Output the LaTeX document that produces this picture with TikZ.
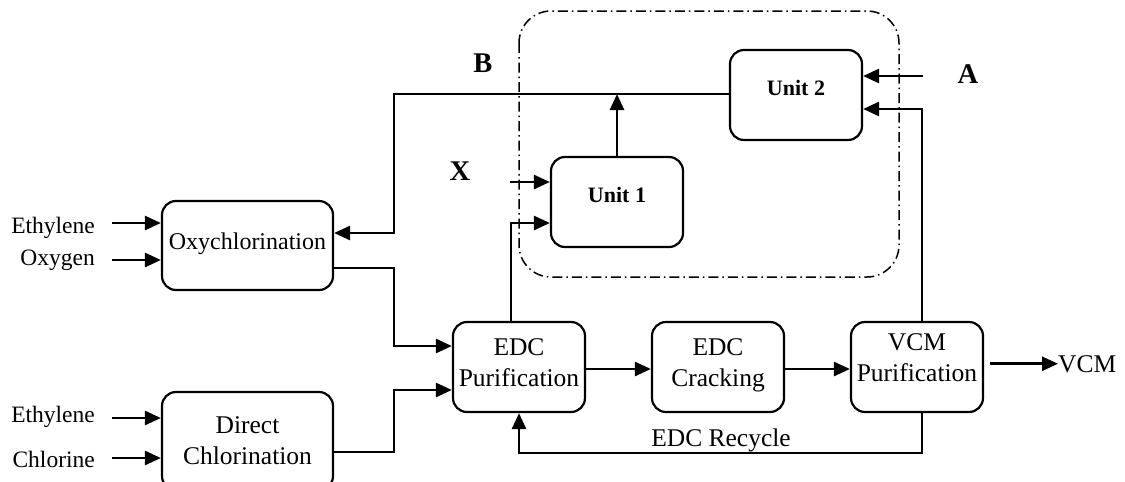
\documentclass[tikz,border=0pt]{standalone}
\usepackage{fontspec}
\setmainfont{Liberation Serif}
\usetikzlibrary{arrows.meta}
\begin{document}
\begin{tikzpicture}[x=1pt,y=-1pt,
  box/.style={draw,line width=2.2pt,rounded corners=14pt,minimum width=132pt,
    minimum height=90pt,inner sep=0pt,align=center,
    font=\fontsize{25.5}{31}\selectfont,text height=18pt},
  twoline/.style={box,text height=49pt,text depth=#1},
  unitbox/.style={box,font=\fontsize{22}{26}\selectfont\bfseries},
  flow/.style={line width=2.6pt,-{Triangle[length=16pt,width=14pt]}},
  side/.style={font=\fontsize{23.5}{28}\selectfont,inner sep=0pt,anchor=base east},
  plain/.style={font=\fontsize{25.5}{31}\selectfont,inner sep=0pt},
  tag/.style={font=\fontsize{28.5}{34}\selectfont\bfseries,inner sep=0pt,anchor=base},
  region/.style={line width=1.5pt,rounded corners=32pt,
    dash pattern=on 10pt off 4pt on 1.5pt off 4pt}]
\useasboundingbox (0,0) rectangle (1125,482);

% dash-dotted envelope round the two added units
\draw[region] (519,11) rectangle (899,277);

% process blocks
\node[box,minimum width=171pt,minimum height=89pt,text depth=11pt,
      font=\fontsize{24}{29}\selectfont] (oxy) at (247.5,245.5) {Oxychlorination};
\node[twoline=3pt,minimum width=171pt,minimum height=98pt] (dc) at (247.5,441) {Direct\\Chlorination};
\node[twoline=11pt] (pur) at (519,367) {EDC\\Purification};
\node[twoline=11pt] (crack) at (718,367) {EDC\\Cracking};
\node[twoline=21pt] (vcm) at (917,367) {VCM\\Purification};
\node[unitbox,text depth=18pt] (u1) at (617,202) {Unit 1};
\node[unitbox,text depth=18pt] (u2) at (796,95) {Unit 2};

% feed labels
\node[side] (eth1) at (95,233) {Ethylene};
\node[side] (oxg) at (95,265) {Oxygen};
\node[side] (eth2) at (95,422) {Ethylene};
\node[side] (chl) at (95,467) {Chlorine};
\node[plain,anchor=base west] (vcmout) at (1058,372) {VCM};
\node[plain,anchor=base] (rec) at (721,446) {EDC Recycle};
\node[tag] (A) at (968,83) {A};
\node[tag] (B) at (483,72) {B};
\node[tag] (X) at (460,180) {X};

% connector start points and bends
\coordinate (s1) at (112,223);
\coordinate (s2) at (112,260);
\coordinate (s3) at (112,418);
\coordinate (s4) at (112,458);
\coordinate (j1) at (394,268);
\coordinate (j2) at (394,346);
\coordinate (j3) at (394,452);
\coordinate (j4) at (394,390);
\coordinate (ym) at (0,369);
\coordinate (r1) at (922,453);
\coordinate (k1) at (511,223);
\coordinate (xs) at (510,182);
\coordinate (bl) at (394,94);
\coordinate (rt) at (394,233);
\coordinate (as) at (923,76);
\coordinate (v2) at (922,109);

% feeds
\draw[flow] (s1) -- (s1 -| oxy.west);
\draw[flow] (s2) -- (s2 -| oxy.west);
\draw[flow] (s3) -- (s3 -| dc.west);
\draw[flow] (s4) -- (s4 -| dc.west);

% main line
\draw[flow] (oxy.east |- j1) -- (j1) -- (j2) -- (pur.west |- j2);
\draw[flow] (dc.east |- j3) -- (j3) -- (j4) -- (pur.west |- j4);
\draw[flow] (pur.east |- ym) -- (crack.west |- ym);
\draw[flow] (crack.east |- ym) -- (vcm.west |- ym);
\draw[flow,shorten <=6pt] (vcm.east |- vcmout.west) -- (vcmout.west);
\draw[flow] (vcm.south -| r1) -- (r1) -- (r1 -| pur.south) -- (pur.south);

% added units
\draw[flow] (pur.north -| k1) -- (k1) -- (k1 -| u1.west);
\draw[flow] (xs) -- (xs -| u1.west);
\draw[flow] (u1.north) -- (u1.north |- bl);
\draw[flow] (u2.west |- bl) -- (bl) -- (rt) -- (rt -| oxy.east);
\draw[flow] (as) -- (as -| u2.east);
\draw[flow] (vcm.north -| v2) -- (v2) -- (v2 -| u2.east);
\end{tikzpicture}
\end{document}
